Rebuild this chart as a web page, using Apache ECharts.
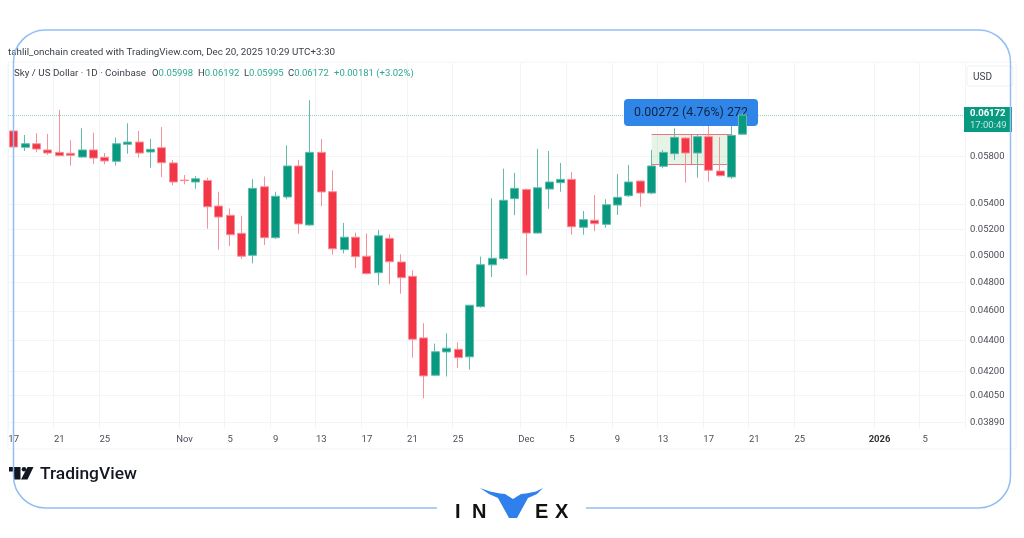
<html>
<head>
    <meta charset="utf-8">
    <title>Sky / US Dollar</title>
    <script src="https://cdn.jsdelivr.net/npm/echarts@6/dist/echarts.min.js"></script>
    <style>
        html, body { margin: 0; padding: 0; background: #fff; }
    </style>
</head>
<body>
    <div id="main" style="width: 1024px;height:538px;"></div>
    <script type="text/javascript">
        var FONT = 'Roboto, sans-serif';
        var GREEN = '#089981', RED = '#F23645';

        // one price per daily candle, 17 Oct to 20 Dec 2025
        var opens = [.06027,.05880,.05912,.05857,.05836,.05828,.05795,.05857,.05793,.05758,.05907,.05927,.05839,.05877,.05744,.05598,.05582,.05595,.05384,.05310,.05168,.05000,.05542,.05134,.05458,.05718,.05233,.05836,.05501,.05043,.05138,.04993,.04871,.05129,.04950,.04845,.04417,.04176,.04325,.04342,.04293,.04629,.04929,.04976,.05444,.05520,.05170,.05523,.05576,.05604,.05215,.05270,.05238,.05392,.05468,.05590,.05490,.05715,.05824,.05963,.05830,.05975,.05675,.05624,.05998];
        var closes = [.05883,.05912,.05865,.05830,.05807,.05810,.05857,.05786,.05761,.05912,.05927,.05830,.05863,.05746,.05582,.05593,.05609,.05378,.05296,.05157,.04993,.05529,.05134,.05464,.05718,.05241,.05836,.05499,.05049,.05138,.04990,.04864,.05149,.04952,.04835,.04408,.04172,.04326,.04349,.04288,.04639,.04930,.04978,.05431,.05529,.05170,.05534,.05582,.05604,.05219,.05275,.05243,.05395,.05455,.05582,.05490,.05718,.05836,.05969,.05830,.05975,.05681,.05635,.05987,.06172];
        var lows = [.05795,.05848,.05836,.05813,.05804,.05721,.05790,.05735,.05733,.05721,.05824,.05789,.05703,.05624,.05554,.05562,.05526,.05204,.05042,.05070,.04975,.04940,.05078,.05124,.05439,.05165,.05225,.05384,.05005,.05014,.04905,.04860,.04782,.04787,.04720,.04288,.04034,.04170,.04168,.04222,.04211,.04622,.04840,.04965,.05310,.04852,.05165,.05362,.05501,.05157,.05157,.05184,.05212,.05312,.05458,.05378,.05480,.05698,.05770,.05576,.05618,.05585,.05630,.05609,.05995];
        var highs = [.06027,.05990,.06005,.05999,.06220,.05943,.06051,.06011,.05830,.05966,.06097,.06027,.05954,.06063,.05770,.05641,.05632,.05618,.05501,.05365,.05306,.05606,.05629,.05501,.05898,.05770,.06311,.05954,.05681,.05249,.05173,.05167,.05194,.05160,.05008,.04889,.04515,.04379,.04448,.04388,.04639,.04990,.05447,.05695,.05660,.05529,.05868,.05848,.05744,.05666,.05344,.05474,.05439,.05649,.05727,.05595,.05857,.05857,.06051,.05972,.05997,.06078,.05972,.06088,.06192];

        var priceTicks = [0.0389, 0.0405, 0.042, 0.044, 0.046, 0.048, 0.05, 0.052, 0.054, 0.058];
        var lastPrice = 0.06172;
        var boxTop = 0.06000, boxBottom = 0.05730;

        // date -> text shown on the time axis
        var dateLabels = {
            '2025-10-17': '17', '2025-10-21': '21', '2025-10-25': '25', '2025-11-01': 'Nov',
            '2025-11-05': '5', '2025-11-09': '9', '2025-11-13': '13', '2025-11-17': '17',
            '2025-11-21': '21', '2025-11-25': '25', '2025-12-01': 'Dec', '2025-12-05': '5',
            '2025-12-09': '9', '2025-12-13': '13', '2025-12-17': '17', '2025-12-21': '21',
            '2025-12-25': '25', '2026-01-01': '2026', '2026-01-05': '5'
        };

        var days = [];
        for (var d = 0; d < 84; d++) {
            days.push(new Date(Date.UTC(2025, 9, 17 + d)).toISOString().slice(0, 10));
        }

        var candles = opens.map(function (o, i) { return [o, closes[i], lows[i], highs[i]]; });
        // the last candle sits on top of the blue measure label, so it gets its own series
        var lastCandle = candles.map(function (c, i) {
            return i === candles.length - 1 ? c : ['-', '-', '-', '-'];
        });

        var hasLabel = function (index) { return !!dateLabels[days[index]]; };

        var candleStyle = {
            color: GREEN, color0: RED,
            borderColor: '#62bcaa', borderColor0: '#f7909a',
            borderWidth: 1
        };
        var boxLine = { color: '#f0737d', type: 'solid', width: 1 };

        var headerFont = '9.8px ' + FONT, smallFont = '9.5px ' + FONT;

        var option = {
            animation: false,
            backgroundColor: '#fff',
            textStyle: { fontFamily: FONT },
            grid: { left: 8, right: 59, top: 63, height: 365, containLabel: false },
            xAxis: {
                type: 'category',
                data: days,
                axisLine: { show: false },
                axisTick: { show: false, alignWithLabel: true, interval: hasLabel },
                splitLine: { show: true, interval: hasLabel, lineStyle: { color: '#f3f4f6', width: 1 } },
                axisLabel: {
                    interval: hasLabel,
                    margin: 7,
                    color: '#4a4e58',
                    fontSize: 9.5,
                    fontFamily: FONT,
                    hideOverlap: false,
                    formatter: function (value) { return dateLabels[value] === '2026' ? '{y|2026}' : dateLabels[value]; },
                    rich: { y: { fontWeight: 'bold', fontSize: 9.5, color: '#333' } }
                }
            },
            yAxis: {
                type: 'log',
                logBase: 10,
                position: 'right',
                min: 0.03858,
                max: 0.06674,
                axisLine: { show: false },
                axisTick: { show: false, customValues: priceTicks },
                splitLine: { show: true, lineStyle: { color: '#f3f4f6', width: 1 } },
                axisLabel: {
                    customValues: priceTicks,
                    margin: 5,
                    color: '#4a4e58',
                    fontSize: 9.5,
                    fontFamily: FONT,
                    formatter: function (value) { return value.toFixed(5); }
                }
            },
            series: [
                {
                    // no points of its own, only carries the price line and the measure box
                    type: 'line',
                    z: 1,
                    data: [],
                    markArea: {
                        silent: true,
                        z: 1,
                        itemStyle: { color: 'rgba(76,175,80,0.14)' },
                        data: [[
                            { xAxis: '2025-12-12', yAxis: boxTop },
                            { xAxis: '2025-12-19', yAxis: boxBottom }
                        ]]
                    },
                    markLine: {
                        silent: true,
                        z: 1,
                        precision: 5,
                        symbol: 'none',
                        label: { show: false },
                        data: [
                            { yAxis: lastPrice, lineStyle: { color: '#8fd6c8', type: [1, 1], width: 1 } },
                            [{ xAxis: '2025-12-12', yAxis: boxTop, lineStyle: boxLine },
                             { xAxis: '2025-12-19', yAxis: boxTop }],
                            [{ xAxis: '2025-12-12', yAxis: boxBottom, lineStyle: boxLine },
                             { xAxis: '2025-12-19', yAxis: boxBottom }]
                        ]
                    }
                },
                {
                    type: 'candlestick',
                    z: 2,
                    barWidth: 8.5,
                    data: candles,
                    itemStyle: candleStyle
                },
                {
                    type: 'candlestick',
                    z: 6,
                    barWidth: 8.5,
                    data: lastCandle,
                    itemStyle: candleStyle
                }
            ],
            graphic: [
                // chart panel frame
                { type: 'rect', z: 0, shape: { x: 8, y: 62, width: 1008, height: 387 }, style: { fill: 'none', stroke: '#f3f4f6', lineWidth: 1 } },
                // header
                { type: 'text', z: 5, x: 8, y: 48, style: { text: 'tahlil_onchain created with TradingView.com, Dec 20, 2025 10:29 UTC+3:30', fill: '#3c4048', font: '9.8px ' + FONT } },
                { type: 'text', z: 5, x: 14, y: 69, style: { text: 'Sky / US Dollar · 1D · Coinbase', fill: '#3c4048', font: headerFont } },
                { type: 'text', z: 5, x: 152, y: 69, style: { text: '{k|O}{v|0.05998}', rich: { k: { fill: '#3c4048', font: smallFont }, v: { fill: '#2fa88f', font: smallFont } } } },
                { type: 'text', z: 5, x: 198, y: 69, style: { text: '{k|H}{v|0.06192}', rich: { k: { fill: '#3c4048', font: smallFont }, v: { fill: '#2fa88f', font: smallFont } } } },
                { type: 'text', z: 5, x: 244, y: 69, style: { text: '{k|L}{v|0.05995}', rich: { k: { fill: '#3c4048', font: smallFont }, v: { fill: '#2fa88f', font: smallFont } } } },
                { type: 'text', z: 5, x: 288, y: 69, style: { text: '{k|C}{v|0.06172}', rich: { k: { fill: '#3c4048', font: smallFont }, v: { fill: '#2fa88f', font: smallFont } } } },
                { type: 'text', z: 5, x: 334, y: 69, style: { text: '+0.00181 (+3.02%)', fill: '#2fa88f', font: smallFont } },
                // currency button
                { type: 'rect', z: 5, shape: { x: 967, y: 66, width: 46, height: 20, r: 3 }, style: { fill: '#fff', stroke: '#f0f1f3', lineWidth: 1 } },
                { type: 'text', z: 5, x: 973, y: 72, style: { text: 'USD', fill: '#3c4048', font: '10px ' + FONT } },
                // last price tag
                { type: 'rect', z: 5, shape: { x: 964, y: 107, width: 48, height: 25 }, style: { fill: GREEN } },
                { type: 'text', z: 6, x: 970, y: 109, style: { text: '0.06172', fill: '#fff', font: 'bold 9.5px ' + FONT } },
                { type: 'text', z: 6, x: 970, y: 121, style: { text: '17:00:49', fill: '#c4e7df', font: '9.5px ' + FONT } },
                // measure tool
                { type: 'line', z: 3, shape: { x1: 691.5, y1: 134, x2: 691.5, y2: 165 }, style: { stroke: '#f0737d', lineWidth: 1 } },
                { type: 'rect', z: 4, shape: { x: 624, y: 99, width: 134, height: 27, r: 4 }, style: { fill: '#2f86e8' } },
                { type: 'text', z: 5, x: 634, y: 107, style: { text: '0.00272 (4.76%) 272', fill: '#10243f', font: '12.4px ' + FONT } },
                // TradingView logo
                { type: 'polygon', z: 5, shape: { points: [[9, 467], [20.5, 467], [20.5, 479.5], [14, 479.5], [14, 471.5], [9, 471.5]] }, style: { fill: '#131722' } },
                { type: 'circle', z: 5, shape: { cx: 24, cy: 469.3, r: 2.3 }, style: { fill: '#131722' } },
                { type: 'polygon', z: 5, shape: { points: [[27.5, 467], [33.5, 467], [27.5, 479.5], [21, 479.5]] }, style: { fill: '#131722' } },
                { type: 'text', z: 5, x: 40, y: 466, style: { text: 'TradingView', fill: '#131722', font: '500 17.4px ' + FONT } },
                // rounded blue frame, open at the bottom for the logo
                { type: 'rect', z: 20, shape: { x: 13.5, y: 30, width: 997, height: 478, r: 32 }, style: { fill: 'none', stroke: '#92bff2', lineWidth: 1.5 } },
                { type: 'rect', z: 21, shape: { x: 437, y: 500, width: 149, height: 16 }, style: { fill: '#fff' } },
                // INVEX logo
                { type: 'text', z: 22, x: 455, y: 502, style: { text: 'I', fill: '#111', font: 'bold 20px "Liberation Sans"' } },
                { type: 'text', z: 22, x: 472, y: 502, style: { text: 'N', fill: '#111', font: 'bold 20px "Liberation Sans"' } },
                { type: 'text', z: 22, x: 535, y: 502, style: { text: 'E', fill: '#111', font: 'bold 20px "Liberation Sans"' } },
                { type: 'text', z: 22, x: 555, y: 502, style: { text: 'X', fill: '#111', font: 'bold 20px "Liberation Sans"' } },
                { type: 'polygon', z: 22, shape: { points: [[480, 488], [490, 491.5], [500, 493.5], [505, 494], [513, 499], [521, 494], [526, 493.5], [536, 491.5], [543, 488], [537, 494], [528, 498], [517, 518], [509, 518], [498, 498], [489, 494]] }, style: { fill: '#2f80ed' } }
            ]
        };

        var myChart = echarts.init(document.getElementById('main'));
        myChart.setOption(option);
    </script>
</body>
</html>
